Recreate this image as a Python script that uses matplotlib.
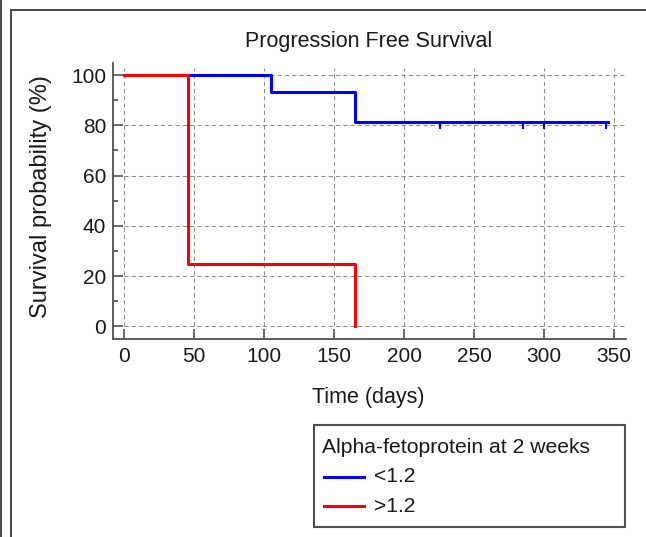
import matplotlib
matplotlib.use('Agg')
import matplotlib.pyplot as plt
from matplotlib.lines import Line2D
from matplotlib.patches import Rectangle

plt.rcParams['font.family'] = ['Liberation Sans', 'DejaVu Sans']

# Kaplan-Meier steps
low_days = [0, 105, 165, 345.5]
low_surv = [100, 93.3, 81.3, 81.3]
low_censor = [226, 285, 300, 344]
high_days = [0, 45.4, 164.7]
high_surv = [100, 24.7, 0]

x_ticks = [0, 50, 100, 150, 200, 250, 300, 350]
y_ticks = [0, 20, 40, 60, 80, 100]
y_minor = [10, 30, 50, 70, 90]

title = 'Progression Free Survival'
legend_title = 'Alpha-fetoprotein at 2 weeks'
labels = ['<1.2', '>1.2']
colors = ['#0000ff', '#ff0000']

W, H = 646, 537
fig = plt.figure(figsize=(W / 100, H / 100), dpi=100)
ax = fig.add_axes([113 / W, 1 - 338.7 / H, (625.8 - 113) / W, (338.7 - 63.3) / H])
ax.set_xlim(-7.86, 358.4)
ax.set_ylim(-4.93, 104.7)

# dashed grid limited to the data range
gkw = dict(color='#8c8c8c', lw=0.75, linestyle=(0, (4, 3)), zorder=1)
ax.hlines(y_ticks, 0, 357, **gkw)
ax.vlines(x_ticks, 0, 103, **gkw)

ax.step(low_days, low_surv, where='post', color=colors[0], lw=2.2, zorder=3)
censor_level = [low_surv[-1]] * len(low_censor)
ax.vlines(low_censor, [v - 2.6 for v in censor_level], censor_level,
          color=colors[0], lw=1.5, zorder=3)
ax.step(high_days, high_surv, where='post', color=colors[1], lw=2.2, zorder=4)

for s in ['top', 'right']:
    ax.spines[s].set_visible(False)
for s in ['left', 'bottom']:
    ax.spines[s].set_color('#505050')
    ax.spines[s].set_linewidth(1.3)

ax.set_xticks(x_ticks)
ax.set_yticks(y_ticks)
ax.set_yticks(y_minor, minor=True)
ax.tick_params(axis='both', which='major', direction='in', color='#505050',
               width=1.2, labelsize=15, labelcolor='#1a1a1a')
ax.tick_params(axis='x', which='major', length=7, pad=6)
ax.tick_params(axis='y', which='major', length=7, pad=5)
ax.tick_params(axis='y', which='minor', direction='in', length=3.5, width=1.2,
               color='#505050')

fig.text(369 / W, 1 - 47 / H, title, ha='center', va='baseline',
         fontsize=15.5, color='#1a1a1a')
fig.text(368 / W, 1 - 403 / H, 'Time (days)', ha='center', va='baseline',
         fontsize=15.5, color='#1a1a1a')
fig.text(41 / W, 1 - 197 / H, 'Survival probability (%)', ha='center', va='center',
         rotation=90, fontsize=17, color='#1a1a1a')

# legend box
fig.add_artist(Rectangle((314 / W, 1 - 527 / H), (625 - 314) / W, (527 - 425) / H,
                         transform=fig.transFigure, facecolor='white',
                         edgecolor='#505050', lw=1.5))
fig.text(321.7 / W, 1 - 453 / H, legend_title, ha='left', va='baseline',
         fontsize=15.2, color='#1a1a1a')
for i, (lab, c) in enumerate(zip(labels, colors)):
    yy = 1 - (476.7 + 29.5 * i) / H
    fig.add_artist(Line2D([324 / W, 364 / W], [yy, yy], transform=fig.transFigure,
                          color=c, lw=2.2))
    fig.text(374 / W, yy, lab, ha='left', va='center', fontsize=15.2, color='#1a1a1a')

# outer frame lines
fkw = dict(transform=fig.transFigure, color='#444444', lw=1.4)
fig.add_artist(Line2D([0.8 / W, 0.8 / W], [0, 1], **fkw))
fig.add_artist(Line2D([11 / W, 11 / W], [0, 1 - 9.8 / H], **fkw))
fig.add_artist(Line2D([11 / W, 1], [1 - 9.8 / H, 1 - 9.8 / H], **fkw))

fig.savefig('out.png', dpi=100)
